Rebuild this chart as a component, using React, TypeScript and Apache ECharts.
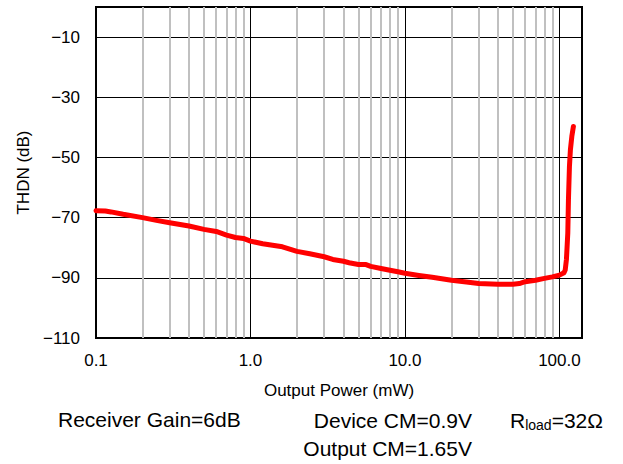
import React, { useEffect, useRef } from "react";
import * as echarts from "echarts";

// Output power (mW) and THD+N (dB)
const OUTPUT_POWER_MW = [
  0.1, 0.115, 0.125, 0.15, 0.2, 0.246, 0.3, 0.4, 0.5, 0.6, 0.7, 0.8, 0.9, 1.0,
  1.2, 1.39, 1.61, 2.0, 2.42, 3.0, 3.41, 4.0, 4.35, 5.0, 5.6, 6.0, 7.0, 8.0, 9.0,
  10, 12.3, 15, 20, 25, 30, 40, 50, 55, 60, 70, 80, 90, 100, 107, 109, 111, 113.3,
  114.4, 116.1, 117.8, 120.3, 123.2,
];
const THDN_DB = [
  -67.7, -67.8, -68.1, -68.9, -70.0, -70.9, -71.7, -72.8, -73.9, -74.6, -75.8,
  -76.6, -76.9, -77.8, -78.7, -79.2, -79.7, -81.2, -82.0, -83.0, -83.9, -84.5,
  -85.0, -85.6, -85.6, -86.2, -86.9, -87.5, -88.0, -88.5, -89.2, -89.8, -90.8,
  -91.4, -91.9, -92.1, -92.1, -91.9, -91.3, -90.8, -90.2, -89.7, -89.1, -88.3,
  -87.4, -83.9, -75.1, -64.0, -53.0, -47.4, -43.0, -39.7,
];

const X_MIN = 0.1;
const X_MAX = 140;
const Y_MIN = -110;
const Y_MAX = 0;
const Y_STEP = 20;

const X_TITLE = "Output Power (mW)";
const Y_TITLE = "THDN (dB)";
const NOTE_GAIN = "Receiver Gain=6dB";
const NOTE_DEVICE_CM = "Device CM=0.9V";
const NOTE_OUTPUT_CM = "Output CM=1.65V";
const NOTE_RLOAD = ["R", "load", "=32Ω"];

const FONT = "'Liberation Sans', Arial, Helvetica, sans-serif";

export default function App() {
  const ref = useRef<HTMLDivElement>(null);

  useEffect(() => {
    if (!ref.current) return;
    const chart = echarts.init(ref.current, undefined, { renderer: "svg" });

    const minorX: number[] = [];
    for (let e = -1; e <= 2; e++) {
      for (let d = 2; d <= 9; d++) {
        const v = d * Math.pow(10, e);
        if (v < X_MAX) minorX.push(Number(v.toPrecision(3)));
      }
    }

    const data = OUTPUT_POWER_MW.map((x, i) => [x, THDN_DB[i]]);

    const option: any = {
      animation: false,
      grid: {
        left: 96,
        top: 7,
        width: 486,
        height: 331,
        show: true,
        borderColor: "#000",
        borderWidth: 2,
      },
      xAxis: {
        type: "log",
        logBase: 10,
        min: X_MIN,
        max: X_MAX,
        axisLine: { show: true, lineStyle: { color: "#000", width: 2 } },
        axisTick: { show: false },
        splitLine: { show: true, lineStyle: { color: "#000", width: 1 } },
        axisLabel: {
          color: "#000",
          fontSize: 17,
          fontFamily: FONT,
          margin: 14,
          formatter: (v: number) => {
            const l = Math.log10(v);
            if (Math.abs(l - Math.round(l)) > 0.01) return "";
            return v.toFixed(1);
          },
        },
        name: X_TITLE,
        nameLocation: "middle",
        nameGap: 44,
        nameTextStyle: { color: "#000", fontSize: 17, fontFamily: FONT },
      },
      yAxis: {
        type: "value",
        min: Y_MIN,
        max: Y_MAX,
        interval: Y_STEP,
        axisLine: { show: true, lineStyle: { color: "#000", width: 2 } },
        axisTick: { show: false },
        splitLine: { show: true, lineStyle: { color: "#000", width: 1 } },
        axisLabel: {
          color: "#000",
          fontSize: 17,
          fontFamily: FONT,
          margin: 16,
          formatter: (v: number) => (v === 0 ? "" : v < 0 ? "\u2212" + Math.abs(v) : String(v)),
        },
        name: Y_TITLE,
        nameLocation: "middle",
        nameRotate: 90,
        nameGap: 62,
        nameTextStyle: { color: "#000", fontSize: 17, fontFamily: FONT },
      },
      series: [
        {
          type: "line",
          data: [],
          z: 1,
          silent: true,
          markLine: {
            silent: true,
            symbol: ["none", "none"],
            label: { show: false },
            lineStyle: { color: "#c0c0c0", width: 2, type: "solid" },
            data: minorX.map((v) => ({ xAxis: v })),
          },
        },
        {
          type: "line",
          data,
          z: 5,
          showSymbol: false,
          symbol: "none",
          lineStyle: { color: "#ff0000", width: 5, cap: "round", join: "round" },
          itemStyle: { color: "#ff0000" },
        },
      ],
      graphic: [
        {
          type: "text",
          left: 58,
          top: 409,
          style: { text: NOTE_GAIN, fontSize: 21, fontFamily: FONT, fill: "#000" },
        },
        {
          type: "text",
          x: 472,
          y: 420,
          style: {
            text: NOTE_DEVICE_CM,
            fontSize: 21,
            fontFamily: FONT,
            fill: "#000",
            align: "right",
            verticalAlign: "middle",
          },
        },
        {
          type: "text",
          x: 472,
          y: 448,
          style: {
            text: NOTE_OUTPUT_CM,
            fontSize: 21,
            fontFamily: FONT,
            fill: "#000",
            align: "right",
            verticalAlign: "middle",
          },
        },
        {
          type: "text",
          x: 510,
          y: 420,
          style: {
            text: `{r|${NOTE_RLOAD[0]}}{s|${NOTE_RLOAD[1]}}{r|${NOTE_RLOAD[2]}}`,
            fontFamily: FONT,
            fill: "#000",
            verticalAlign: "middle",
            rich: {
              r: { fontSize: 21, fontFamily: FONT, fill: "#000", lineHeight: 24 },
              s: {
                fontSize: 14,
                fontFamily: FONT,
                fill: "#000",
                lineHeight: 24,
                padding: [10, 0, 0, 0],
              },
            },
          },
        },
      ],
    };

    chart.setOption(option);
    return () => chart.dispose();
  }, []);

  return (
    <div
      ref={ref}
      style={{ position: "fixed", left: 0, top: 0, width: 623, height: 464, background: "#fff" }}
    />
  );
}
